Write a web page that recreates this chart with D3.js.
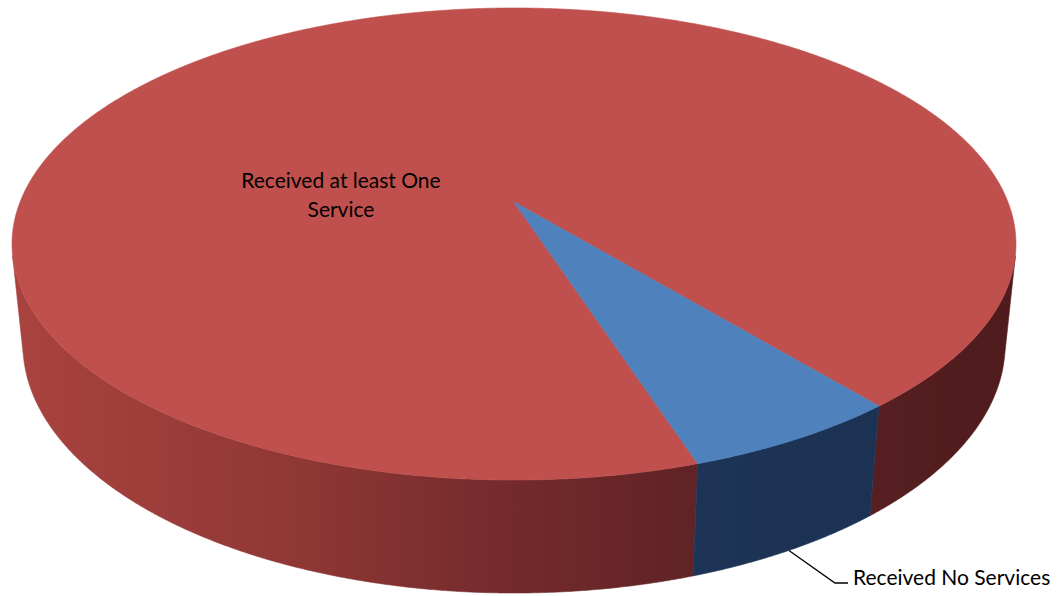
<!DOCTYPE html>
<html>
<head>
<meta charset="utf-8">
<script src="https://cdn.jsdelivr.net/npm/d3@7"></script>
<style>
  html, body { margin: 0; padding: 0; background: #ffffff; }
  svg { display: block; }
  text { font-family: Lato, "Open Sans", sans-serif; fill: #000; }
</style>
</head>
<body>
<svg id="chart" width="1061" height="596"></svg>
<script>
// Share of clients by service status
const categories = ["Received at least One Service", "Received No Services"];
const values = [94, 6];
const labelLines = [["Received at least One", "Service"], ["Received No Services"]];

const topColors  = ["#C0504D", "#4F81BD"];
const sideStops  = [
  [["0", "#A9433F"], ["0.3", "#8E3735"], ["0.46", "#782C2D"], ["0.68", "#602326"], ["1", "#4F1B1C"]],
  [["0", "#203A5E"], ["1", "#1B3152"]]
];

const W = 1061, H = 596;
const svg = d3.select("#chart");

// Tilted disc seen in perspective: apex of the pie, focal length, eye distance, tilt, thickness
const cx = 514, cy = 202;
const focal = 2461, eye = 4.982, tilt = 27.56 * Math.PI / 180, thick = 0.2313;
const sT = Math.sin(tilt), cT = Math.cos(tilt);

// angle: clockwise from 12 o'clock (top view), r: radius 0..1, h: 0 top face, thick = bottom
function project(angle, r, h) {
  const u = r * Math.sin(angle);
  const v = -r * Math.cos(angle);
  const z = eye - v * cT + h * sT;
  return [cx + focal * u / z, cy + focal * (v * sT + h * cT) / z];
}

const startDeg = 162;
const pie = d3.pie().sort(null).value(d => d)
  .startAngle(startDeg * Math.PI / 180)
  .endAngle((startDeg + 360) * Math.PI / 180);
const arcs = pie(values);

function arcPoints(a0, a1, h) {
  const n = Math.max(2, Math.ceil(Math.abs(a1 - a0) / (0.25 * Math.PI / 180)));
  return d3.range(n + 1).map(i => project(a0 + (a1 - a0) * i / n, 1, h));
}

const defs = svg.append("defs");
sideStops.forEach((stops, i) => {
  const g = defs.append("linearGradient")
    .attr("id", "side" + i)
    .attr("gradientUnits", "userSpaceOnUse")
    .attr("x1", 10).attr("x2", 1014).attr("y1", 0).attr("y2", 0);
  stops.forEach(s => g.append("stop").attr("offset", s[0]).attr("stop-color", s[1]));
});

// The outer wall faces the viewer where v > 1 / (cos(tilt) * eye)
const vMin = 1 / (cT * eye);
const visHalf = Math.acos(vMin);           // half-width of visible band around the front
const vis0 = Math.PI - visHalf, vis1 = Math.PI + visHalf;

const line = d3.line();
const sides = svg.append("g");
arcs.forEach((a, i) => {
  for (let k = 0; k < 3; k++) {
    const lo = Math.max(a.startAngle, vis0 + k * 2 * Math.PI);
    const hi = Math.min(a.endAngle, vis1 + k * 2 * Math.PI);
    if (hi <= lo) continue;
    const pts = arcPoints(lo, hi, 0).concat(arcPoints(lo, hi, thick).reverse());
    sides.append("path")
      .attr("d", line(pts) + "Z")
      .attr("fill", `url(#side${i})`)
      .attr("stroke", `url(#side${i})`)
      .attr("stroke-width", 0.6);
  }
});

const tops = svg.append("g");
arcs.forEach((a, i) => {
  const pts = [project(0, 0, 0)].concat(arcPoints(a.startAngle, a.endAngle, 0));
  tops.append("path")
    .attr("d", line(pts) + "Z")
    .attr("fill", topColors[i])
    .attr("stroke", topColors[i])
    .attr("stroke-width", 0.6)
    .attr("stroke-linejoin", "round");
});

// Label on the large slice
const fontSize = 21;
const lab0 = svg.append("text")
  .attr("text-anchor", "middle")
  .attr("font-size", fontSize);
labelLines[0].forEach((t, j) => {
  lab0.append("tspan").attr("x", 341).attr("y", 188 + j * 29).text(t);
});

// Leader to the small slice, starting on the lower rim at its mid angle
const mid1 = (arcs[1].startAngle + arcs[1].endAngle) / 2;
const p0 = project(mid1, 1, thick);
const elbow = [835, 583];
svg.append("path")
  .attr("d", line([p0, elbow, [848, 583]]))
  .attr("fill", "none")
  .attr("stroke", "#000")
  .attr("stroke-width", 1.3);
svg.append("text")
  .attr("x", 853).attr("y", 585)
  .attr("font-size", fontSize)
  .text(labelLines[1][0]);
</script>
</body>
</html>
